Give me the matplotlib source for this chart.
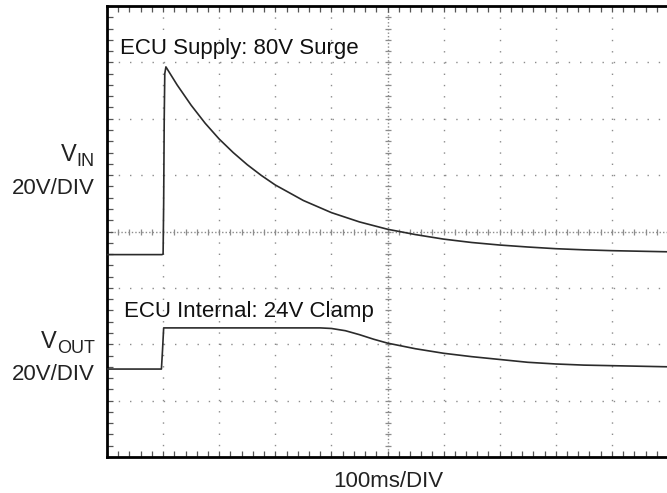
import numpy as np
import matplotlib.pyplot as plt
from matplotlib.ticker import MultipleLocator

# scope settings
V_PER_DIV = 20.0     # both channels
MS_PER_DIV = 100.0   # time base
VIN_ZERO = 3.0       # channel ground position, divisions from the bottom
VOUT_ZERO = 1.0

# traces (time in ms, volts)
vin_t = [0, 98, 100, 101, 102, 103, 105, 125, 150, 175, 200, 225, 250, 275, 300, 350,
         400, 450, 500, 550, 600, 650, 700, 750, 800, 850, 900, 950, 1000]
vin_v = [11.8, 11.8, 12.0, 30.0, 60.0, 76.0, 78.4, 72.0, 64.8, 58.4, 52.8, 48.0, 43.7, 39.9, 36.5, 31.0,
         26.7, 23.4, 20.8, 18.9, 17.3, 16.1, 15.2, 14.5, 13.9, 13.5, 13.2, 13.0, 12.8]

vout_t = [0, 97, 99, 101, 200, 300, 380, 400, 425, 450, 475, 500, 550, 600,
          650, 700, 750, 800, 850, 900, 950, 1000]
vout_v = [11.2, 11.2, 18.0, 25.8, 25.8, 25.8, 25.8, 25.6, 24.8, 23.4, 21.8, 20.4, 18.4, 16.8,
          15.6, 14.6, 13.6, 13.0, 12.6, 12.4, 12.2, 12.0]

W, H = 667, 493
fig = plt.figure(figsize=(W / 100, H / 100), dpi=100)
ax = fig.add_axes([107 / W, 1 - 457 / H, 561 / W, 451 / H])
ax.set_xlim(0, 10)
ax.set_ylim(0, 8)

# graticule
grid_col = '#8c8c8c'
for x in range(1, 10):
    if x != 5:
        ax.axvline(x, color=grid_col, lw=1.0, ls=(0, (1, 7.1)), zorder=1)
for y in range(1, 8):
    if y != 4:
        ax.axhline(y, color=grid_col, lw=1.0, ls=(0, (1, 7.1)), zorder=1)
minor = np.arange(0, 10.01, 0.2)
ax.axvline(5, color=grid_col, lw=1.0, ls=(0, (1, 1.5)), zorder=1)
ax.axhline(4, color=grid_col, lw=1.0, ls=(0, (1, 1.5)), zorder=1)
ax.plot(minor, np.full(len(minor), 4.0), ls='none', marker='|', ms=5, mew=0.9, color=grid_col, zorder=1)
ax.plot(np.full(len(minor[:41]), 5.0), minor[:41], ls='none', marker='_', ms=5, mew=0.9, color=grid_col, zorder=1)

ax.xaxis.set_major_locator(MultipleLocator(1))
ax.xaxis.set_minor_locator(MultipleLocator(0.2))
ax.yaxis.set_major_locator(MultipleLocator(1))
ax.yaxis.set_minor_locator(MultipleLocator(0.2))
ax.tick_params(which='both', direction='in', top=True, bottom=True, left=True, right=False,
               length=4, width=0.9, color='#555555',
               labelbottom=False, labelleft=False)
for s in ['left', 'top', 'bottom']:
    ax.spines[s].set_linewidth(2.0)
    ax.spines[s].set_color('black')
ax.spines['right'].set_visible(False)

# traces
trace_col = '#2b2b2b'
ax.plot(np.array(vin_t) / MS_PER_DIV, np.array(vin_v) / V_PER_DIV + VIN_ZERO,
        color=trace_col, lw=1.2, zorder=3)
ax.plot(np.array(vout_t) / MS_PER_DIV, np.array(vout_v) / V_PER_DIV + VOUT_ZERO,
        color=trace_col, lw=1.2, zorder=3)

# in-screen labels
lab_font = ['Liberation Sans', 'DejaVu Sans']
ax.text(0.23, 7.15, 'ECU Supply: 80V Surge', fontsize=16, family=lab_font,
        ha='left', va='baseline', color='#111111')
ax.text(0.30, 2.49, 'ECU Internal: 24V Clamp', fontsize=16, family=lab_font,
        ha='left', va='baseline', color='#111111')

# side labels
side_col = '#222222'
fig.canvas.draw()
renderer = fig.canvas.get_renderer()


def channel_label(main, sub, base_y):
    x_right = 95 / W
    s = fig.text(x_right, 1 - (base_y + 5) / H, sub, fontsize=13, family=lab_font,
                 ha='right', va='baseline', color=side_col)
    sw = s.get_window_extent(renderer).width
    fig.text(x_right - (sw + 0.5) / W, 1 - base_y / H, main, fontsize=17, family=lab_font,
             ha='right', va='baseline', color=side_col)


channel_label('V', 'IN', 161)
fig.text(95 / W, 1 - 194 / H, '20V/DIV', fontsize=16, family=lab_font,
         ha='right', va='baseline', color=side_col)
channel_label('V', 'OUT', 348)
fig.text(95 / W, 1 - 380 / H, '20V/DIV', fontsize=16, family=lab_font,
         ha='right', va='baseline', color=side_col)

fig.text(388 / W, 1 - 487 / H, '100ms/DIV', fontsize=16, family=lab_font,
         ha='center', va='baseline', color=side_col)

fig.savefig('out.png', dpi=100)
